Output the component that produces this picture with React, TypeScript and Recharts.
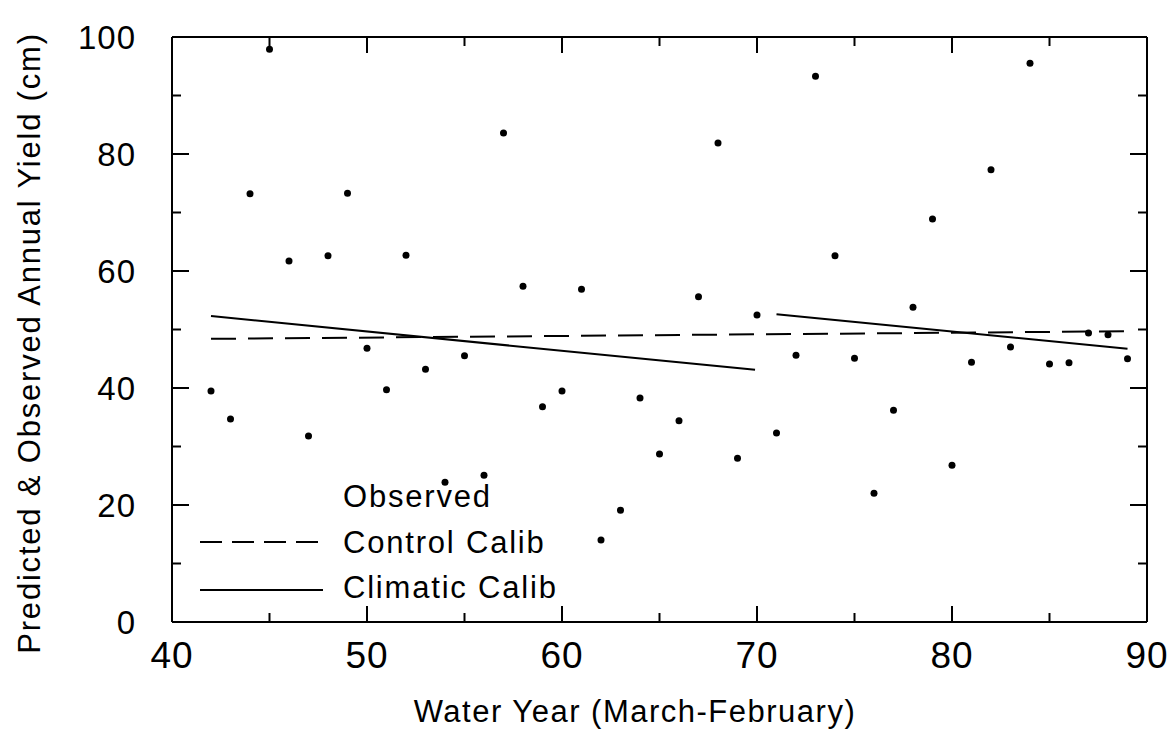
import React from "react";
import { ComposedChart, XAxis, YAxis, Scatter, Line, Customized } from "recharts";

const years = [42, 43, 44, 45, 46, 47, 48, 49, 50, 51, 52, 53, 54, 55, 56, 57, 58, 59, 60, 61, 62, 63, 64, 65, 66, 67, 68, 69, 70, 71, 72, 73, 74, 75, 76, 77, 78, 79, 80, 81, 82, 83, 84, 85, 86, 87, 88, 89];
const observed = [39.5, 34.7, 73.2, 97.9, 61.7, 31.8, 62.6, 73.3, 46.8, 39.7, 62.7, 43.2, 23.9, 45.5, 25.1, 83.6, 57.4, 36.8, 39.5, 56.9, 14.0, 19.1, 38.3, 28.7, 34.4, 55.6, 81.9, 28.0, 52.5, 32.3, 45.6, 93.3, 62.6, 45.1, 22.0, 36.2, 53.8, 68.9, 26.8, 44.4, 77.3, 47.0, 95.5, 44.1, 44.3, 49.4, 49.1, 45.0];

const controlYears = [42, 89];
const controlValues = [48.4, 49.7];
const climaticYearsA = [42, 69.9];
const climaticValuesA = [52.3, 43.1];
const climaticYearsB = [71, 89];
const climaticValuesB = [52.6, 46.7];

const xTicks = [40, 45, 50, 55, 60, 65, 70, 75, 80, 85, 90];
const yTicks = [0, 10, 20, 30, 40, 50, 60, 70, 80, 90, 100];

const xTitle = "Water Year (March-February)";
const yTitle = "Predicted & Observed Annual Yield (cm)";
const legendLabels = ["Observed", "Control Calib", "Climatic Calib"];

const FONT = "'Liberation Sans', Arial, Helvetica, sans-serif";

const obsData = years.map((y, i) => ({ year: y, obs: observed[i] }));
const controlData = controlYears.map((y, i) => ({ year: y, value: controlValues[i] }));
const climADat = climaticYearsA.map((y, i) => ({ year: y, value: climaticValuesA[i] }));
const climBDat = climaticYearsB.map((y, i) => ({ year: y, value: climaticValuesB[i] }));

const BottomTick = (props: any) => {
  const { x, y, payload } = props;
  const major = payload.value % 10 === 0;
  return (
    <g>
      <line x1={x} y1={y} x2={x} y2={y - (major ? 16 : 9)} stroke="#000" strokeWidth={2} />
      {major && (
        <text x={x} y={y + 46} textAnchor="middle" fontSize={37} fontFamily={FONT} fill="#000" letterSpacing={1}>
          {payload.value}
        </text>
      )}
    </g>
  );
};

const TopTick = (props: any) => {
  const { x, y, payload } = props;
  const major = payload.value % 10 === 0;
  return <line x1={x} y1={y} x2={x} y2={y + (major ? 16 : 9)} stroke="#000" strokeWidth={2} />;
};

const LeftTick = (props: any) => {
  const { x, y, payload } = props;
  const major = payload.value % 20 === 0;
  return (
    <g>
      <line x1={x} y1={y} x2={x + (major ? 17 : 9)} y2={y} stroke="#000" strokeWidth={2} />
      {major && (
        <text x={x - 36} y={y + 12} textAnchor="end" fontSize={33} fontFamily={FONT} fill="#000" letterSpacing={1}>
          {payload.value}
        </text>
      )}
    </g>
  );
};

const RightTick = (props: any) => {
  const { x, y, payload } = props;
  const major = payload.value % 20 === 0;
  return <line x1={x} y1={y} x2={x - (major ? 17 : 9)} y2={y} stroke="#000" strokeWidth={2} />;
};

const Dot = (props: any) => {
  const { cx, cy } = props;
  return <circle cx={cx} cy={cy} r={3.5} fill="#000" />;
};

const Overlay = () => (
  <g fontFamily={FONT} fill="#000">
    <text x={635} y={722} textAnchor="middle" fontSize={31} letterSpacing={1.5}>{xTitle}</text>
    <text x={0} y={0} textAnchor="middle" fontSize={31} letterSpacing={1.8} transform="translate(40,343) rotate(-90)">{yTitle}</text>
    <text x={343} y={507} fontSize={31} letterSpacing={1.8}>{legendLabels[0]}</text>
    <line x1={200} y1={542} x2={320} y2={542} stroke="#000" strokeWidth={2} strokeDasharray="22 10" />
    <text x={343} y={553} fontSize={31} letterSpacing={1.8}>{legendLabels[1]}</text>
    <line x1={200} y1={590} x2={323} y2={590} stroke="#000" strokeWidth={2} />
    <text x={343} y={598} fontSize={31} letterSpacing={1.8}>{legendLabels[2]}</text>
  </g>
);

export default function App() {
  return (
    <div style={{ position: "absolute", left: 0, top: 0, width: 1171, height: 740, background: "#fff" }}>
      <ComposedChart width={1171} height={740} margin={{ top: 36, right: 23, bottom: 0, left: 0 }}>
        <XAxis
          xAxisId="b"
          dataKey="year"
          type="number"
          domain={[40, 90]}
          ticks={xTicks}
          interval={0}
          height={118}
          tickSize={0}
          tickMargin={0}
          tickLine={false}
          tick={<BottomTick />}
          axisLine={{ stroke: "#000", strokeWidth: 2 }}
          allowDataOverflow
        />
        <XAxis
          xAxisId="t"
          orientation="top"
          dataKey="year"
          type="number"
          domain={[40, 90]}
          ticks={xTicks}
          interval={0}
          height={1}
          tickSize={0}
          tickMargin={0}
          tickLine={false}
          tick={<TopTick />}
          axisLine={{ stroke: "#000", strokeWidth: 2 }}
          allowDataOverflow
        />
        <YAxis
          yAxisId="l"
          type="number"
          domain={[0, 100]}
          ticks={yTicks}
          interval={0}
          width={172}
          tickSize={0}
          tickMargin={0}
          tickLine={false}
          tick={<LeftTick />}
          axisLine={{ stroke: "#000", strokeWidth: 2 }}
          allowDataOverflow
        />
        <YAxis
          yAxisId="r"
          orientation="right"
          type="number"
          domain={[0, 100]}
          ticks={yTicks}
          interval={0}
          width={1}
          tickSize={0}
          tickMargin={0}
          tickLine={false}
          tick={<RightTick />}
          axisLine={{ stroke: "#000", strokeWidth: 2 }}
          allowDataOverflow
        />
        <Line xAxisId="b" yAxisId="l" data={controlData} dataKey="value" stroke="#000" strokeWidth={2} strokeDasharray="25 12" dot={false} isAnimationActive={false} />
        <Line xAxisId="b" yAxisId="l" data={climADat} dataKey="value" stroke="#000" strokeWidth={2} dot={false} isAnimationActive={false} />
        <Line xAxisId="b" yAxisId="l" data={climBDat} dataKey="value" stroke="#000" strokeWidth={2} dot={false} isAnimationActive={false} />
        <Scatter xAxisId="b" yAxisId="l" data={obsData} dataKey="obs" shape={<Dot />} isAnimationActive={false} />
        <Line xAxisId="t" yAxisId="r" data={obsData} dataKey="obs" stroke="none" dot={false} isAnimationActive={false} />
        <Customized component={<Overlay />} />
      </ComposedChart>
    </div>
  );
}
